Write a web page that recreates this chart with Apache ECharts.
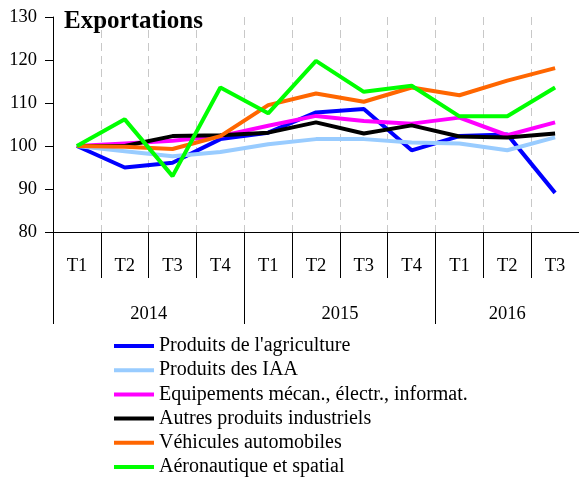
<!DOCTYPE html>
<html>
<head>
<meta charset="utf-8">
<script src="https://cdn.jsdelivr.net/npm/echarts@6/dist/echarts.min.js"></script>
<style>
    html, body{
        margin: 0;
        padding: 0;
        background: #fff;
    }
    #export_chart{
        width: 579px;
        height: 479px;
    }
</style>
</head>
<body>
<div id="export_chart"></div>
<script>
    // trimestres et annees
    var quarters = ['T1', 'T2', 'T3', 'T4', 'T1', 'T2', 'T3', 'T4', 'T1', 'T2', 'T3'];
    var years = ['2014', '2015', '2016'];
    var yearQuarterCount = [4, 4, 3];

    // indices (base 100 au T1 2014)
    var agriculture = [100, 95.0, 96.1, 101.6, 103.1, 107.8, 108.6, 99.0, 102.3, 102.7, 89.1];
    var iaa = [100, 98.8, 97.6, 98.6, 100.4, 101.6, 101.6, 100.8, 100.6, 99.0, 102.0];
    var equipements = [100, 100.6, 101.2, 102.3, 104.7, 107.0, 105.8, 105.2, 106.6, 102.5, 105.5];
    var autres = [100, 100.0, 102.3, 102.5, 103.1, 105.5, 102.9, 104.8, 102.2, 102.0, 102.9];
    var automobiles = [100, 99.8, 99.3, 102.3, 109.5, 112.2, 110.3, 113.6, 111.8, 115.2, 118.1];
    var aeronautique = [100, 106.2, 93.0, 113.6, 107.6, 119.8, 112.6, 114.0, 106.9, 106.9, 113.6];

    var seriesNames = [
        "Produits de l'agriculture",
        'Produits des IAA',
        'Equipements mécan., électr., informat.',
        'Autres produits industriels',
        'Véhicules automobiles',
        'Aéronautique et spatial'
    ];
    var seriesData = [agriculture, iaa, equipements, autres, automobiles, aeronautique];
    var colors = ['#0000ff', '#99ccff', '#ff00ff', '#000000', '#ff6600', '#00ff00'];

    // bornes des annees sur l'axe des trimestres
    var yearBounds = [0];
    var yearCenters = [];
    for (var i = 0; i < yearQuarterCount.length; i++) {
        var start = yearBounds[yearBounds.length - 1];
        yearCenters.push(start + yearQuarterCount[i] / 2);
        yearBounds.push(start + yearQuarterCount[i]);
    }
    var quarterBounds = [];
    for (var q = 0; q <= quarters.length; q++) quarterBounds.push(q);

    var serif = 'Liberation Serif';

    var myChart = echarts.init(document.getElementById('export_chart'));
    var option = {
        backgroundColor: '#fff',
        animation: false,
        color: colors,
        title: {
            text: 'Exportations',
            left: 64,
            top: 9,
            padding: 0,
            textStyle: {
                fontFamily: serif,
                fontSize: 25,
                fontWeight: 'bold',
                color: '#000'
            }
        },
        grid: {
            left: 53,
            right: 0,
            top: 17,
            bottom: 247
        },
        legend: {
            orient: 'vertical',
            left: 114,
            top: 336,
            padding: 0,
            itemWidth: 40,
            itemHeight: 4,
            itemGap: 4.2,
            icon: 'rect',
            data: seriesNames,
            textStyle: {
                fontFamily: serif,
                fontSize: 20,
                lineHeight: 20,
                color: '#000'
            }
        },
        xAxis: [
            {
                type: 'category',
                data: quarters,
                boundaryGap: true,
                axisLine: {lineStyle: {color: '#000', width: 1}},
                axisTick: {
                    show: true,
                    interval: 0,
                    length: 46,
                    lineStyle: {color: '#000'}
                },
                axisLabel: {
                    interval: 0,
                    margin: 25,
                    fontFamily: serif,
                    fontSize: 18.5,
                    lineHeight: 18.5,
                    color: '#000'
                },
                splitLine: {
                    show: true,
                    interval: 0,
                    lineStyle: {color: '#c8c8c8', width: 1, type: [8, 5]}
                }
            },
            {
                type: 'value',
                position: 'bottom',
                min: 0,
                max: quarters.length,
                axisLine: {show: false},
                splitLine: {show: false},
                axisTick: {
                    show: true,
                    customValues: yearBounds,
                    length: 92,
                    lineStyle: {color: '#000'}
                },
                axisLabel: {
                    customValues: yearCenters,
                    margin: 73,
                    fontFamily: serif,
                    fontSize: 18.5,
                    lineHeight: 18.5,
                    color: '#000',
                    formatter: function (val) {
                        for (var k = 0; k < yearCenters.length; k++) {
                            if (Math.abs(yearCenters[k] - val) < 0.01) return years[k];
                        }
                        return '';
                    }
                }
            },
            {
                // separateurs courts entre trimestres
                type: 'value',
                position: 'bottom',
                min: 0,
                max: quarters.length,
                axisLine: {show: false},
                splitLine: {show: false},
                axisLabel: {show: false},
                axisTick: {
                    show: true,
                    customValues: quarterBounds,
                    length: 46,
                    lineStyle: {color: '#000'}
                }
            }
        ],
        yAxis: {
            type: 'value',
            min: 80,
            max: 130,
            interval: 10,
            axisLine: {show: true, lineStyle: {color: '#000', width: 1}},
            axisTick: {show: true, length: 8, lineStyle: {color: '#000'}},
            axisLabel: {
                margin: 16,
                fontFamily: serif,
                fontSize: 18.5,
                color: '#000'
            },
            splitLine: {show: false}
        },
        series: seriesNames.map(function (name, idx) {
            return {
                name: name,
                type: 'line',
                xAxisIndex: 0,
                data: seriesData[idx],
                showSymbol: false,
                symbol: 'none',
                lineStyle: {width: 4, color: colors[idx]},
                itemStyle: {color: colors[idx]}
            };
        })
    };
    myChart.setOption(option);
</script>
</body>
</html>
